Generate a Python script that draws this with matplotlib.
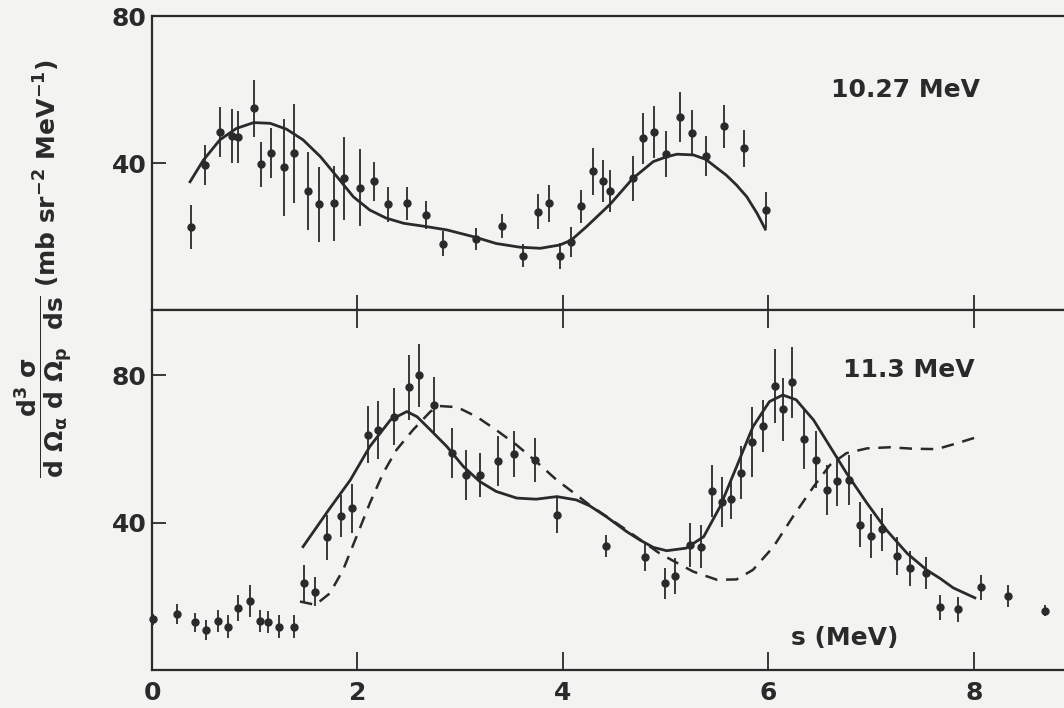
import numpy as np
import matplotlib
matplotlib.use("Agg")
import matplotlib.pyplot as plt

plt.rcParams['font.family'] = ['DejaVu Sans']
plt.rcParams['font.weight'] = 'bold'
plt.rcParams['mathtext.fontset'] = 'dejavusans'
plt.rcParams['mathtext.default'] = 'bf'

ink = '#2a2a2a'
paper = '#f3f3f1'

# 10.27 MeV panel: data points (s in MeV, cross section) and errors
s_top = [0.38, 0.52, 0.66, 0.78, 0.84, 0.99, 1.06, 1.16, 1.28, 1.38,
         1.52, 1.63, 1.77, 1.87, 2.02, 2.16, 2.30, 2.48, 2.67, 2.83,
         3.15, 3.41, 3.61, 3.76, 3.86, 3.97, 4.08, 4.18, 4.29, 4.39,
         4.46, 4.68, 4.78, 4.89, 5.00, 5.14, 5.26, 5.39, 5.57, 5.76, 5.98]
v_top = [22.6, 39.5, 48.4, 47.3, 47.1, 54.9, 39.7, 42.8, 38.8, 42.6,
         32.4, 28.8, 29.0, 35.8, 33.3, 35.0, 28.8, 29.0, 25.9, 18.0,
         19.3, 22.9, 14.8, 26.8, 29.0, 14.7, 18.6, 28.2, 37.7, 35.1,
         32.5, 35.8, 46.7, 48.5, 42.4, 52.4, 48.3, 42.0, 50.0, 44.0, 27.2]
e_top = [6.1, 5.4, 6.8, 7.3, 7.0, 7.7, 6.1, 6.8, 13.2, 13.4,
         10.7, 10.2, 10.2, 11.3, 10.4, 5.2, 4.8, 4.4, 3.9, 3.4,
         2.9, 3.2, 3.2, 4.8, 5.0, 3.6, 4.1, 4.5, 6.3, 5.7,
         5.7, 6.1, 7.0, 7.0, 6.3, 6.8, 6.1, 5.4, 5.9, 5.0, 5.0]

# fitted curve, 10.27 MeV
fit_top_s = [0.37, 0.50, 0.66, 0.82, 0.99, 1.15, 1.31, 1.47, 1.64, 1.80,
             1.96, 2.12, 2.28, 2.45, 2.67, 2.87, 3.15, 3.35, 3.58, 3.78,
             3.97, 4.08, 4.23, 4.46, 4.68, 4.88, 5.01, 5.11, 5.27, 5.39,
             5.59, 5.69, 5.79, 5.89, 5.97]
fit_top_v = [34.9, 40.8, 46.3, 49.4, 51.0, 50.8, 49.2, 46.3, 41.7, 36.3,
             30.8, 27.2, 25.0, 23.6, 22.7, 21.8, 19.8, 18.1, 17.1, 16.8,
             17.7, 19.0, 22.7, 28.8, 35.8, 40.4, 41.7, 42.4, 42.2, 41.0,
             36.7, 34.0, 30.8, 26.3, 22.0]

# 11.3 MeV panel
s_bot = [0.01, 0.24, 0.42, 0.53, 0.64, 0.74, 0.84, 0.95, 1.05, 1.13,
         1.24, 1.38, 1.48, 1.59, 1.70, 1.84, 1.95, 2.10, 2.20, 2.36,
         2.50, 2.60, 2.74, 2.92, 3.06, 3.19, 3.37, 3.52, 3.73, 3.94,
         4.42, 4.80, 4.99, 5.09, 5.24, 5.34, 5.45, 5.55, 5.64, 5.73,
         5.84, 5.95, 6.06, 6.14, 6.23, 6.35, 6.46, 6.57, 6.67, 6.78,
         6.89, 7.00, 7.11, 7.25, 7.38, 7.53, 7.67, 7.85, 8.07, 8.33, 8.69]
v_bot = [13.8, 15.2, 12.9, 10.9, 13.4, 11.8, 16.8, 18.8, 13.4, 13.1,
         11.8, 11.8, 23.5, 21.3, 36.1, 41.8, 43.9, 63.9, 65.2, 68.8,
         76.8, 80.0, 72.0, 58.9, 53.0, 53.0, 56.8, 58.7, 57.1, 42.1,
         33.7, 30.6, 23.5, 25.5, 34.0, 33.5, 48.6, 45.7, 46.4, 53.6,
         61.9, 66.3, 77.2, 70.8, 78.1, 62.7, 57.1, 48.9, 51.4, 51.6,
         39.4, 36.4, 38.2, 31.0, 27.6, 26.4, 17.0, 16.5, 22.5, 20.1, 16.1]
e_bot = [1.5, 2.7, 2.7, 2.7, 3.0, 3.0, 3.6, 4.3, 3.0, 3.0,
         3.0, 3.0, 5.0, 3.9, 6.1, 5.7, 6.6, 7.7, 7.9, 7.8,
         8.8, 8.6, 7.5, 6.8, 6.8, 5.9, 6.8, 6.3, 5.9, 5.0,
         2.9, 3.6, 4.3, 4.8, 5.9, 5.9, 7.0, 6.8, 5.4, 7.2,
         9.5, 7.0, 10.0, 8.5, 9.7, 8.2, 7.7, 6.8, 6.8, 6.8,
         6.1, 5.9, 5.9, 5.2, 4.8, 4.3, 3.4, 3.4, 3.4, 2.9, 1.5]

# solid and dashed calculations, 11.3 MeV
fit_bot_s = [1.47, 1.73, 1.93, 2.12, 2.32, 2.48, 2.58, 2.71, 2.87, 3.03,
             3.19, 3.35, 3.55, 3.74, 3.94, 4.13, 4.26, 4.42, 4.62, 4.75,
             4.88, 5.01, 5.20, 5.37, 5.53, 5.69, 5.85, 6.01, 6.14, 6.27,
             6.44, 6.60, 6.76, 6.96, 7.15, 7.35, 7.54, 7.67, 7.80, 8.01]
fit_bot_v = [33.5, 43.9, 51.6, 60.7, 67.9, 70.2, 68.8, 65.2, 60.7, 55.3,
             51.2, 48.5, 46.7, 46.4, 47.1, 46.2, 44.6, 41.7, 37.6, 35.3,
             33.3, 32.4, 33.1, 36.2, 44.4, 55.2, 66.1, 72.9, 74.7, 73.4,
             67.9, 60.7, 53.5, 45.3, 38.0, 31.7, 27.2, 24.9, 22.3, 19.6]
dash_s = [1.44, 1.59, 1.73, 1.86, 1.99, 2.12, 2.25, 2.38, 2.54, 2.71,
          2.80, 2.97, 3.16, 3.35, 3.55, 3.74, 3.94, 4.13, 4.26, 4.62,
          4.94, 5.07, 5.27, 5.50, 5.69, 5.85, 6.05, 6.24, 6.44, 6.60,
          6.76, 6.96, 7.18, 7.41, 7.64, 7.85, 8.01]
dash_v = [18.6, 17.7, 20.8, 27.2, 36.2, 45.3, 53.5, 59.8, 65.2, 70.2,
          71.7, 71.4, 68.8, 65.2, 61.1, 56.6, 51.6, 47.6, 44.8, 38.0,
          31.7, 29.7, 26.7, 24.5, 24.6, 27.2, 33.5, 41.7, 49.8, 55.7,
          58.9, 60.2, 60.5, 60.1, 60.0, 61.7, 63.1]

fig = plt.figure(figsize=(10.64, 7.08), dpi=100, facecolor=paper)
ax1 = fig.add_axes([0.1429, 0.5621, 0.8882, 0.4153])
ax2 = fig.add_axes([0.1429, 0.0537, 0.8882, 0.5085])

for ax in (ax1, ax2):
    ax.set_facecolor(paper)
    ax.set_xlim(0, 9.2)
    for sp in ax.spines.values():
        sp.set_linewidth(1.6)
        sp.set_color(ink)

ebkw = dict(fmt='o', ms=5, color=ink, ecolor=ink, elinewidth=1.3, capsize=0, clip_on=False)

# top panel
ax1.errorbar(s_top, v_top, yerr=e_top, **ebkw)
ax1.plot(fit_top_s, fit_top_v, color=ink, lw=2.0, solid_joinstyle='round')
ax1.set_ylim(0, 80)
ax1.set_yticks([40, 80])
ax1.set_xticks([2, 4, 6, 8])
ax1.tick_params(axis='x', direction='in', length=11, width=1.3, colors=ink, labelbottom=False)
ax1.tick_params(axis='y', direction='in', length=10, width=1.3, colors=ink, labelsize=18, pad=4)
ax1.text(8.06, 60, '10.27 MeV', ha='right', va='center', fontsize=18, color=ink)

# bottom panel
ax2.errorbar(s_bot, v_bot, yerr=e_bot, **ebkw)
ax2.plot(fit_bot_s, fit_bot_v, color=ink, lw=2.0, solid_joinstyle='round')
ax2.plot(dash_s, dash_v, color=ink, lw=1.8, dashes=(5, 3.5))
ax2.set_ylim(0, 97.8)
ax2.set_yticks([40, 80])
ax2.set_xticks([0, 2, 4, 6, 8])
ax2.tick_params(axis='x', direction='in', length=13, width=1.3, colors=ink,
                labelsize=18, pad=8, top=True)
ax2.tick_params(axis='y', direction='in', length=10, width=1.3, colors=ink, labelsize=18, pad=4)
ax2.text(8.01, 81.5, '11.3 MeV', ha='right', va='center', fontsize=18, color=ink)
ax2.text(6.74, 8.7, 's (MeV)', ha='center', va='center', fontsize=18, color=ink)

# y axis label
fig.text(44 / 1064, 1 - 387 / 708,
         r'$\dfrac{d^3\ \sigma}{d\ \Omega_\alpha\ d\ \Omega_p\ \ ds}$',
         rotation=90, ha='center', va='center', fontsize=18, color=ink)
fig.text(47 / 1064, 1 - 173 / 708, r'(mb sr$^{-2}$ MeV$^{-1}$)',
         rotation=90, ha='center', va='center', fontsize=18, color=ink)

fig.savefig('out.png', dpi=100, facecolor=paper)
